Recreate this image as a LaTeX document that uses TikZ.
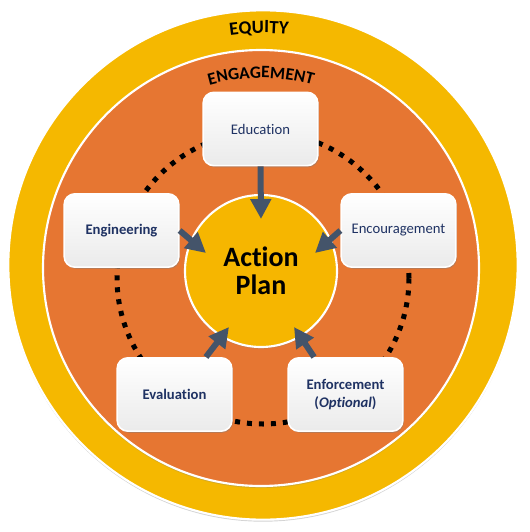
\documentclass[tikz,border=0pt]{standalone}
\usepackage{fontspec}
\setmainfont{Carlito}[Ligatures=NoCommon]
\usetikzlibrary{arrows.meta, positioning, shadows, decorations.text, calc}
\definecolor{goldY}{RGB}{245,184,0}
\definecolor{engOrange}{RGB}{230,118,50}
\definecolor{planY}{RGB}{246,182,0}
\definecolor{navyTxt}{RGB}{31,50,99}
\definecolor{arrowBlue}{RGB}{68,84,106}

\begin{document}
\begin{tikzpicture}[x=0.75pt, y=0.75pt,
    disc/.style={circle, draw=white, line width=1.6pt, inner sep=0pt},
    ebox/.style={
        rectangle, rounded corners=8pt, draw=white, line width=1.2pt,
        top color=white, bottom color=black!8, align=center,
        minimum width=86pt, minimum height=55pt,
        text=navyTxt, font=\fontsize{11}{13}\selectfont,
        drop shadow={shadow xshift=0.8pt, shadow yshift=-1.2pt, opacity=0.45}
    },
    boldlab/.style={font=\fontsize{11}{13}\selectfont\bfseries},
    feed/.style={draw=arrowBlue, line width=4.5pt, -{Triangle[length=15pt, width=15pt]}},
    dotring/.style={draw=black, line width=3.75pt, dash pattern=on 3.75pt off 5.25pt},
    arctext/.style={decorate, decoration={text along path, text align=center, text={#1}}}
]
    \useasboundingbox (0,0) rectangle (529,-532);

    % rings
    \node (equity) [disc, fill=goldY, minimum size=382pt,
        drop shadow={shadow xshift=0pt, shadow yshift=-1.5pt, opacity=0.35}] at (263,-265) {};
    \node (engage) [disc, fill=engOrange, minimum size=327pt,
        drop shadow={shadow xshift=0pt, shadow yshift=-1.5pt, opacity=0.3}] at (261,-268) {};
    \path[arctext={|\fontsize{14}{14}\selectfont\bfseries|EQUITY}]
        ($(equity.center)+(119:232)$) arc[start angle=119, end angle=63, radius=232];
    \path[arctext={|\fontsize{13}{13}\selectfont\bfseries|ENGAGEMENT}]
        ($(engage.center)+(122:190)$) arc[start angle=122, end angle=58, radius=190];

    \draw[dotring] (263,-278) circle[radius=146];

    % centre and the five E's
    \node (plan) [disc, fill=planY, minimum size=114pt, align=center,
        font=\fontsize{21}{21}\selectfont\bfseries,
        drop shadow={shadow xshift=0pt, shadow yshift=-1.2pt, opacity=0.35}] at (261,-271) {Action\\Plan};
    \node (edu) [ebox] at (260.5,-129) {Education};
    \node (eng) [ebox, boldlab] at (121.5,-230.5) {Engineering};
    \node (enc) [ebox] at (398.5,-230.5) {Encouragement};
    \node (eva) [ebox, boldlab] at (174.5,-394.5) {Evaluation};
    \node (enf) [ebox, boldlab] at (345.5,-394.5) {Enforcement\\(\textit{Optional})};

    \coordinate (tipEdu) at (261,-219);
    \coordinate (tipEng) at (206,-253);
    \coordinate (tipEnc) at (315,-253);
    \coordinate (tipEva) at (229,-327);
    \coordinate (tipEnf) at (294,-327);
    \draw[feed] (edu.south) -- (tipEdu);
    \draw[feed] (eng.east) -- (tipEng);
    \draw[feed] (enc.west) -- (tipEnc);
    \draw[feed] (eva.50) -- (tipEva);
    \draw[feed] (enf.130) -- (tipEnf);
\end{tikzpicture}
\end{document}
